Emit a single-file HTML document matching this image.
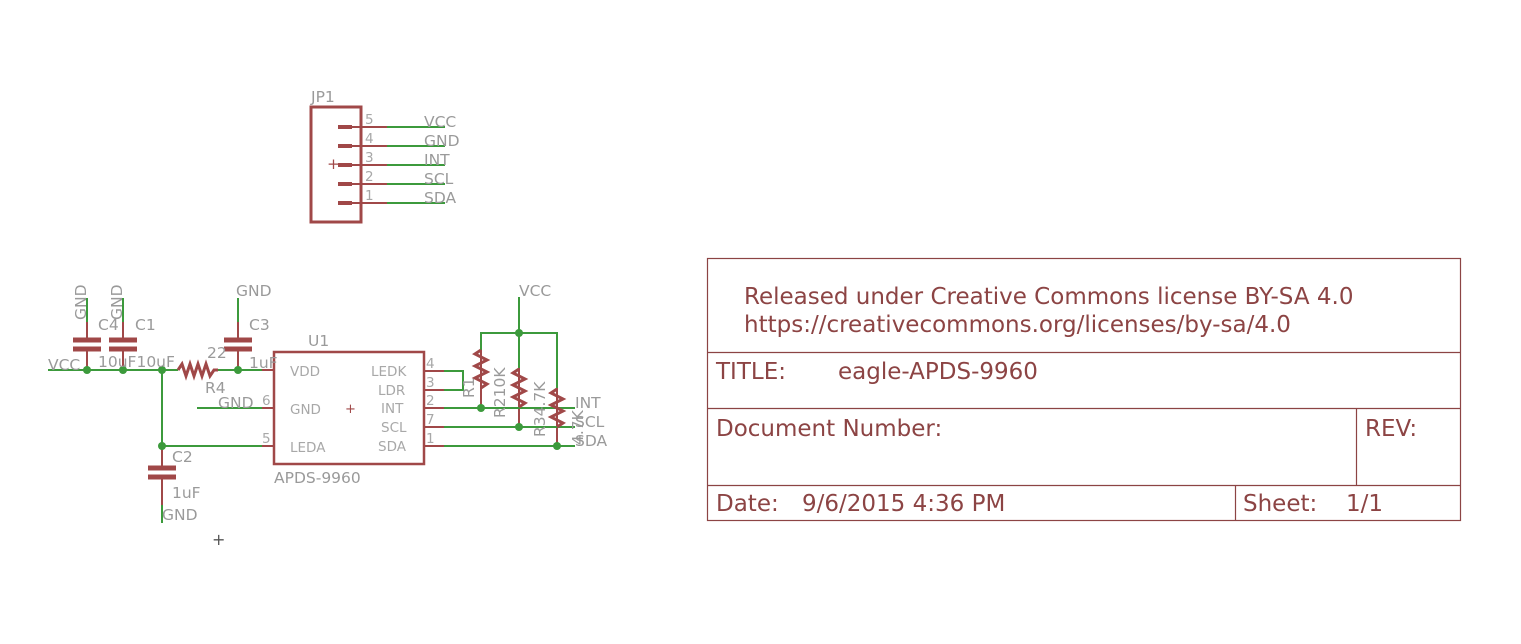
<!DOCTYPE html>
<html><head><meta charset="utf-8"><style>
html,body{margin:0;padding:0;background:#fff;width:1521px;height:644px;overflow:hidden}
svg{display:block}
text{font-family:"DejaVu Sans","Liberation Sans",sans-serif}
.g{fill:#9a9a9a;font-size:15.5px}
.gs{fill:#a8a8a8;font-size:13.5px}
.t{fill:#8c4444;font-size:23px}
</style></head><body>
<svg width="1521" height="644" viewBox="0 0 1521 644" xmlns="http://www.w3.org/2000/svg">
<g stroke-linecap="butt" fill="none">
<rect x="311" y="107" width="50" height="115" stroke="#a04848" stroke-width="3"/>
<g stroke="#a04848" stroke-width="4">
<line x1="338" y1="127" x2="352" y2="127"/><line x1="338" y1="146" x2="352" y2="146"/><line x1="338" y1="165" x2="352" y2="165"/><line x1="338" y1="184" x2="352" y2="184"/><line x1="338" y1="203" x2="352" y2="203"/>
</g>
<g stroke="#a04848" stroke-width="2">
<line x1="352" y1="127" x2="387" y2="127"/><line x1="352" y1="146" x2="387" y2="146"/><line x1="352" y1="165" x2="387" y2="165"/><line x1="352" y1="184" x2="387" y2="184"/><line x1="352" y1="203" x2="387" y2="203"/>
</g>
<g stroke="#3c9a3c" stroke-width="2">
<line x1="387" y1="127" x2="445" y2="127"/><line x1="387" y1="146" x2="445" y2="146"/><line x1="387" y1="165" x2="445" y2="165"/><line x1="387" y1="184" x2="445" y2="184"/><line x1="387" y1="203" x2="445" y2="203"/>
</g>
<g stroke="#3c9a3c" stroke-width="2">
<line x1="48" y1="370" x2="178" y2="370"/>
<line x1="218" y1="370" x2="274" y2="370"/>
<line x1="162" y1="370" x2="162" y2="446"/>
<line x1="162" y1="446" x2="262" y2="446"/>
<line x1="87" y1="298" x2="87" y2="322"/>
<line x1="123" y1="298" x2="123" y2="322"/>
<line x1="238" y1="298" x2="238" y2="322"/>
<line x1="197" y1="408" x2="262" y2="408"/>
<line x1="162" y1="505" x2="162" y2="523"/>
</g>
<g stroke="#a04848" stroke-width="2">
<line x1="87" y1="322" x2="87" y2="340"/><line x1="87" y1="349" x2="87" y2="370"/>
<line x1="123" y1="322" x2="123" y2="340"/><line x1="123" y1="349" x2="123" y2="370"/>
<line x1="238" y1="322" x2="238" y2="340"/><line x1="238" y1="349" x2="238" y2="370"/>
<line x1="162" y1="446" x2="162" y2="468"/><line x1="162" y1="477" x2="162" y2="505"/>
<line x1="262" y1="370" x2="274" y2="370"/><line x1="262" y1="408" x2="274" y2="408"/><line x1="262" y1="446" x2="274" y2="446"/>
<polyline points="178,370 182,364 186,376 190,364 194,376 198,364 202,376 206,364 210,376 214,370 218,370" stroke-width="3"/>
</g>
<g stroke="#a04848" stroke-width="5">
<line x1="73" y1="340" x2="101" y2="340"/><line x1="73" y1="349" x2="101" y2="349"/>
<line x1="109" y1="340" x2="137" y2="340"/><line x1="109" y1="349" x2="137" y2="349"/>
<line x1="224" y1="340" x2="252" y2="340"/><line x1="224" y1="349" x2="252" y2="349"/>
<line x1="148" y1="468" x2="176" y2="468"/><line x1="148" y1="477" x2="176" y2="477"/>
</g>
<rect x="274" y="352" width="150" height="112" stroke="#a04848" stroke-width="2.5"/>
<g stroke="#a04848" stroke-width="2">
<line x1="424" y1="371" x2="444" y2="371"/><line x1="424" y1="390" x2="444" y2="390"/><line x1="424" y1="408" x2="444" y2="408"/><line x1="424" y1="427" x2="444" y2="427"/><line x1="424" y1="446" x2="444" y2="446"/>
<line x1="481" y1="350" x2="481" y2="408"/>
<line x1="519" y1="368" x2="519" y2="427"/>
<line x1="557" y1="388" x2="557" y2="446"/>
</g>
<g stroke="#3c9a3c" stroke-width="2">
<polyline points="444,371 463,371 463,390 444,390"/>
<line x1="444" y1="408" x2="575" y2="408"/>
<line x1="444" y1="427" x2="575" y2="427"/>
<line x1="444" y1="446" x2="575" y2="446"/>
<line x1="519" y1="297" x2="519" y2="368"/>
<polyline points="481,350 481,333 557,333 557,388"/>
</g>
<g stroke="#a04848" stroke-width="3" fill="none">
<polyline points="481,350 475,354 487,360 475,366 487,372 475,378 487,384 481,388"/>
<polyline points="519,369 513,373 525,379 513,385 525,391 513,397 525,403 519,407"/>
<polyline points="557,389 551,393 563,399 551,405 563,411 551,417 563,423 557,427"/>
</g>
</g>
<g fill="#3c9a3c">
<circle cx="87" cy="370" r="4"/><circle cx="123" cy="370" r="4"/><circle cx="162" cy="370" r="4"/><circle cx="238" cy="370" r="4"/><circle cx="162" cy="446" r="4"/>
<circle cx="519" cy="333" r="4"/><circle cx="481" cy="408" r="4"/><circle cx="519" cy="427" r="4"/><circle cx="557" cy="446" r="4"/>
</g>
<text class="g" x="311" y="102">JP1</text>
<g class="gs"><text x="365" y="124">5</text><text x="365" y="143">4</text><text x="365" y="162">3</text><text x="365" y="181">2</text><text x="365" y="200">1</text></g>
<g class="g"><text x="424" y="127">VCC</text><text x="424" y="146">GND</text><text x="424" y="165">INT</text><text x="424" y="184">SCL</text><text x="424" y="203">SDA</text></g>
<text class="g" x="327" y="169" style="fill:#a04848">+</text>
<g class="g">
<text transform="translate(86,320) rotate(-90)">GND</text>
<text transform="translate(122,320) rotate(-90)">GND</text>
<text x="236" y="296">GND</text>
<text x="98" y="330">C4</text><text x="135" y="330">C1</text><text x="249" y="330">C3</text>
<text x="48" y="370">VCC</text><text x="98" y="367">10uF10uF</text>
<text x="207" y="358">22</text><text x="249" y="368">1uF</text>
<text x="205" y="393">R4</text>
<text x="218" y="408">GND</text>
<text x="172" y="462">C2</text><text x="172" y="498">1uF</text><text x="162" y="520">GND</text>
<text x="308" y="346">U1</text>
<text x="274" y="483">APDS-9960</text>
<text x="519" y="296">VCC</text>
<text x="575" y="408">INT</text><text x="575" y="427">SCL</text><text x="575" y="446">SDA</text>
<text transform="translate(474,398) rotate(-90)">R1</text>
<text transform="translate(505,418) rotate(-90)">R210K</text>
<text transform="translate(545,437) rotate(-90)">R34.7K</text>
<text transform="translate(583,445) rotate(-90)">4.7K</text>
</g>
<g class="gs">
<text x="290" y="376">VDD</text><text x="290" y="414">GND</text><text x="290" y="452">LEDA</text>
<text x="371" y="376">LEDK</text><text x="378" y="395">LDR</text><text x="381" y="413">INT</text><text x="381" y="432">SCL</text><text x="378" y="451">SDA</text>
<text x="426" y="368">4</text><text x="426" y="387">3</text><text x="426" y="405">2</text><text x="426" y="424">7</text><text x="426" y="443">1</text>
<text x="262" y="405">6</text><text x="262" y="443">5</text>
</g>
<text x="345" y="413" style="fill:#a04848;font-size:13px">+</text>
<text x="212" y="545" style="fill:#555;font-size:16px">+</text>
<g stroke="#8c4444" stroke-width="1.2" fill="none">
<rect x="707.5" y="258.5" width="753" height="262"/>
<line x1="707" y1="352.5" x2="1460" y2="352.5"/>
<line x1="707" y1="408.5" x2="1460" y2="408.5"/>
<line x1="707" y1="485.5" x2="1460" y2="485.5"/>
<line x1="1356.5" y1="408" x2="1356.5" y2="485"/>
<line x1="1235.5" y1="485" x2="1235.5" y2="520"/>
</g>
<g class="t">
<text x="744" y="304">Released under Creative Commons license BY-SA 4.0</text>
<text x="744" y="332">https://creativecommons.org/licenses/by-sa/4.0</text>
<text x="716" y="379">TITLE:</text><text x="838" y="379">eagle-APDS-9960</text>
<text x="716" y="436">Document Number:</text>
<text x="1365" y="436">REV:</text>
<text x="716" y="511">Date:</text><text x="802" y="511">9/6/2015 4:36 PM</text>
<text x="1243" y="511">Sheet:</text><text x="1346" y="511">1/1</text>
</g>
</svg>
</body></html>
